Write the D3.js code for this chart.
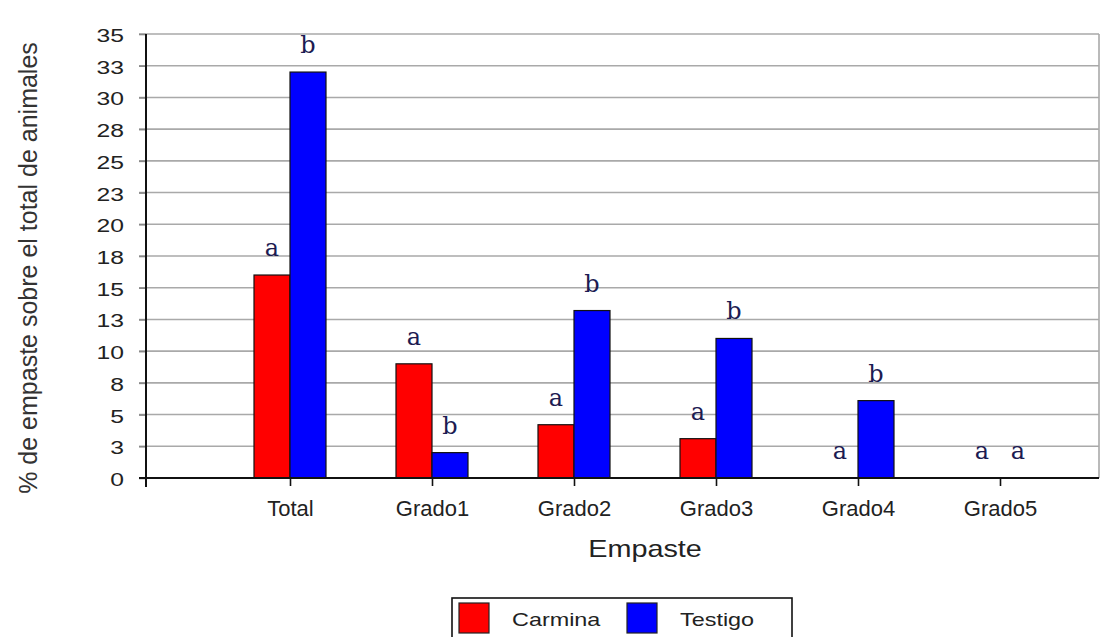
<!DOCTYPE html>
<html>
<head>
<meta charset="utf-8">
<script src="https://cdn.jsdelivr.net/npm/d3@7"></script>
<style>
  html, body { margin: 0; padding: 0; background: #fff; }
  svg { display: block; }
</style>
</head>
<body>
<svg id="chart" width="1103" height="637"></svg>
<script>
// Categories of "Empaste" severity
const categories = ["Total", "Grado1", "Grado2", "Grado3", "Grado4", "Grado5"];
const seriesNames = ["Carmina", "Testigo"];
// % of animals with empaste, per treatment
const carmina = [16.0, 9.0, 4.2, 3.1, 0, 0];
const testigo = [32.0, 2.0, 13.2, 11.0, 6.1, 0];
// Significance letters above each bar
const carminaLetters = ["a", "a", "a", "a", "a", "a"];
const testigoLetters = ["b", "b", "b", "b", "b", "a"];
// Y axis ticks (labels rounded to whole numbers)
const yTickValues = [0, 2.5, 5, 7.5, 10, 12.5, 15, 17.5, 20, 22.5, 25, 27.5, 30, 32.5, 35];
const yTickLabels = ["0", "3", "5", "8", "10", "13", "15", "18", "20", "23", "25", "28", "30", "33", "35"];
const colors = { Carmina: "#ff0000", Testigo: "#0000ff" };

const svg = d3.select("#chart");
const plot = { left: 146, right: 1099, top: 34, bottom: 478 };
const stretch = 1.3; // wide glyphs for the value axis and legend

const y = d3.scaleLinear().domain([0, 35]).range([plot.bottom, plot.top]);
const x = d3.scalePoint().domain(categories).range([290, 1000]);
const xs = d3.scaleBand().domain(seriesNames).range([-36, 36]);

const textFont = "Liberation Sans, Arial, sans-serif";

// horizontal gridlines
svg.append("g").selectAll("line").data(yTickValues).join("line")
  .attr("x1", plot.left - 7).attr("x2", plot.right)
  .attr("y1", d => y(d)).attr("y2", d => y(d))
  .attr("stroke", "#a9a9a9").attr("stroke-width", 1.6);

// right border of plot area
svg.append("line")
  .attr("x1", plot.right).attr("x2", plot.right)
  .attr("y1", plot.top).attr("y2", plot.bottom)
  .attr("stroke", "#a9a9a9").attr("stroke-width", 1.6);

// bars
const rows = categories.map((c, i) => ({ cat: c, values: [
  { s: "Carmina", v: carmina[i], letter: carminaLetters[i] },
  { s: "Testigo", v: testigo[i], letter: testigoLetters[i] }
]}));

const groups = svg.append("g").selectAll("g").data(rows).join("g")
  .attr("transform", d => `translate(${x(d.cat)},0)`);

groups.selectAll("rect").data(d => d.values.filter(e => e.v > 0)).join("rect")
  .attr("x", d => xs(d.s))
  .attr("width", xs.bandwidth())
  .attr("y", d => y(d.v))
  .attr("height", d => y(0) - y(d.v))
  .attr("fill", d => colors[d.s])
  .attr("stroke", "#111")
  .attr("stroke-width", 1.2);

// significance letters
groups.selectAll("text").data(d => d.values).join("text")
  .attr("transform", d => `translate(${xs(d.s) + xs.bandwidth() / 2},${y(d.v) - 19})`)
  .attr("text-anchor", "middle")
  .attr("font-family", "DejaVu Serif, serif")
  .attr("font-size", 24)
  .attr("fill", "#1c1c52")
  .text(d => d.letter);

// y axis
const yAxis = d3.axisLeft(y).tickValues(yTickValues).tickSize(7).tickFormat((d, i) => yTickLabels[i]);
const gy = svg.append("g").attr("transform", `translate(${plot.left},0)`).call(yAxis);
gy.select(".domain").remove();
gy.selectAll(".tick line").attr("stroke", "#888").attr("stroke-width", 1.6);
gy.selectAll(".tick text")
  .attr("x", 0).attr("dy", null)
  .attr("dominant-baseline", "central")
  .attr("transform", `translate(-22,1) scale(${stretch},1)`)
  .attr("font-family", textFont).attr("font-size", 19).attr("fill", "#222")
  .attr("text-anchor", "end");
svg.append("line")
  .attr("x1", plot.left).attr("x2", plot.left)
  .attr("y1", plot.top).attr("y2", plot.bottom + 9)
  .attr("stroke", "#111").attr("stroke-width", 2);

// x axis
const xAxis = d3.axisBottom(x).tickSize(8).tickSizeOuter(0);
const gx = svg.append("g").attr("transform", `translate(0,${plot.bottom})`).call(xAxis);
gx.select(".domain").remove();
gx.selectAll(".tick line").attr("stroke", "#111").attr("stroke-width", 1.6);
gx.selectAll(".tick text")
  .attr("y", 0).attr("dy", null)
  .attr("transform", "translate(0,38)")
  .attr("font-family", textFont).attr("font-size", 22).attr("fill", "#222");
svg.append("line")
  .attr("x1", plot.left - 7).attr("x2", plot.right)
  .attr("y1", plot.bottom).attr("y2", plot.bottom)
  .attr("stroke", "#111").attr("stroke-width", 2);

// axis titles
const xMid = (x(categories[0]) + x(categories[categories.length - 1])) / 2;
svg.append("text")
  .attr("transform", `translate(${xMid},557) scale(1.2,1)`)
  .attr("text-anchor", "middle")
  .attr("font-family", textFont).attr("font-size", 24).attr("fill", "#222")
  .text("Empaste");

svg.append("text")
  .attr("transform", "translate(37,268) rotate(-90)")
  .attr("text-anchor", "middle")
  .attr("font-family", textFont).attr("font-size", 25).attr("fill", "#333")
  .text("% de empaste sobre el total de animales");

// legend
const legend = svg.append("g").attr("transform", "translate(452,598)");
legend.append("rect")
  .attr("x", 0).attr("y", 0).attr("width", 340).attr("height", 60)
  .attr("fill", "#fff").attr("stroke", "#111").attr("stroke-width", 1.6);
const legendX = d3.scaleOrdinal().domain(seriesNames).range([7, 175]);
const items = legend.selectAll("g.item").data(seriesNames).join("g")
  .attr("class", "item")
  .attr("transform", d => `translate(${legendX(d)},5)`);
items.append("rect")
  .attr("width", 30).attr("height", 30)
  .attr("fill", d => colors[d]).attr("stroke", "#222").attr("stroke-width", 1.2);
items.append("text")
  .attr("transform", `translate(53,23) scale(${stretch},1)`)
  .attr("font-family", textFont).attr("font-size", 18).attr("fill", "#222")
  .text(d => d);
</script>
</body>
</html>
